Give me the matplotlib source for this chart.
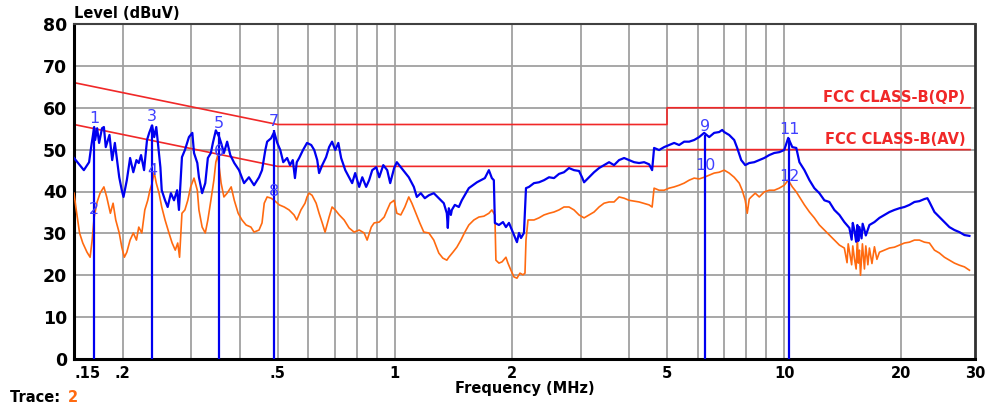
import numpy as np
import matplotlib
matplotlib.use("Agg")
import matplotlib.pyplot as plt
from matplotlib.ticker import FixedLocator, NullLocator

# peak trace (blue), MHz / dBuV
blue_freq = [0.150, 0.159, 0.164, 0.166, 0.169, 0.170, 0.172, 0.174, 0.177, 0.179, 0.181, 0.185, 0.188, 0.191,
             0.196, 0.199, 0.201, 0.205, 0.209, 0.213, 0.217, 0.220, 0.223, 0.227, 0.231, 0.234, 0.238, 0.241,
             0.244, 0.247, 0.250, 0.252, 0.257, 0.261, 0.266, 0.271, 0.276, 0.279, 0.284, 0.289, 0.296, 0.302,
             0.305, 0.311, 0.314, 0.320, 0.326, 0.331, 0.337, 0.341, 0.347, 0.354, 0.358, 0.364, 0.371, 0.378,
             0.387, 0.398, 0.410, 0.422, 0.435, 0.448, 0.456, 0.465, 0.470, 0.481, 0.490, 0.499, 0.508, 0.517,
             0.529, 0.538, 0.547, 0.554, 0.560, 0.568, 0.581, 0.595, 0.610, 0.621, 0.632, 0.639, 0.651, 0.666,
             0.678, 0.690, 0.703, 0.716, 0.728, 0.746, 0.763, 0.777, 0.791, 0.810, 0.825, 0.844, 0.859, 0.875,
             0.896, 0.912, 0.934, 0.956, 0.973, 0.996, 1.012, 1.036, 1.061, 1.086, 1.119, 1.139, 1.166, 1.194,
             1.223, 1.259, 1.297, 1.336, 1.360, 1.368, 1.376, 1.393, 1.401, 1.426, 1.460, 1.486, 1.522, 1.549,
             1.587, 1.625, 1.664, 1.703, 1.744, 1.775, 1.796, 1.807, 1.851, 1.896, 1.929, 1.964, 1.999, 2.035,
             2.059, 2.084, 2.109, 2.146, 2.172, 2.211, 2.277, 2.345, 2.416, 2.489, 2.563, 2.640, 2.719, 2.801,
             2.885, 2.972, 3.025, 3.062, 3.153, 3.248, 3.346, 3.446, 3.550, 3.656, 3.766, 3.880, 3.996, 4.116,
             4.240, 4.367, 4.498, 4.579, 4.633, 4.772, 4.916, 5.063, 5.216, 5.372, 5.534, 5.700, 5.871, 6.047,
             6.229, 6.416, 6.609, 6.807, 6.930, 7.012, 7.222, 7.439, 7.573, 7.755, 7.941, 8.131, 8.375, 8.627,
             8.886, 9.153, 9.428, 9.711, 10.00, 10.24, 10.49, 10.74, 10.94, 11.27, 11.61, 11.95, 12.31, 12.68,
             13.06, 13.45, 13.86, 14.27, 14.70, 14.90, 15.00, 15.14, 15.30, 15.41, 15.50, 15.60, 15.80, 15.90,
             16.07, 16.20, 16.55, 17.05, 17.56, 18.08, 18.63, 19.19, 19.76, 20.36, 20.97, 21.60, 22.24, 22.91,
             23.32, 23.60, 24.31, 25.04, 25.79, 26.56, 27.36, 28.18, 29.03, 29.90]
blue_level = [48.0, 45.1, 47.0, 50.6, 55.4, 52.3, 55.1, 51.6, 55.1, 55.4, 50.6, 53.5, 47.5, 51.6,
              43.4, 40.3, 38.7, 42.7, 48.0, 44.6, 47.5, 46.8, 48.7, 45.1, 52.3, 54.0, 55.8, 53.0,
              55.4, 50.6, 45.8, 40.3, 37.9, 36.3, 39.6, 37.9, 40.3, 35.6, 48.2, 49.9, 53.0, 54.0,
              49.2, 46.8, 43.4, 39.6, 42.0, 48.0, 49.2, 51.6, 54.6, 53.0, 51.6, 49.2, 51.9, 48.7,
              46.8, 45.1, 42.0, 43.4, 41.5, 43.4, 45.1, 49.9, 51.9, 52.7, 54.2, 51.6, 49.9, 47.0,
              48.0, 46.3, 47.5, 43.2, 47.0, 48.0, 49.9, 51.6, 51.1, 49.9, 47.5, 44.4, 46.3, 48.2,
              50.6, 51.9, 49.9, 51.6, 48.0, 45.1, 43.4, 42.0, 44.4, 41.1, 43.4, 41.1, 42.7, 45.1,
              45.8, 43.4, 46.3, 45.1, 42.0, 45.6, 47.0, 45.8, 44.6, 43.4, 41.1, 38.7, 39.6, 38.4,
              39.1, 39.6, 38.4, 37.2, 34.8, 31.3, 36.0, 34.4, 35.6, 36.8, 36.3, 37.9, 39.6, 40.8,
              41.5, 42.2, 42.7, 43.2, 45.1, 43.2, 42.7, 32.5, 32.0, 32.7, 31.5, 32.5, 30.8, 29.1,
              27.9, 30.1, 28.9, 30.1, 40.8, 41.1, 42.0, 42.2, 42.7, 43.4, 43.2, 44.2, 44.6, 45.6,
              45.1, 44.9, 43.4, 42.2, 43.4, 44.6, 45.6, 46.3, 47.0, 46.3, 47.5, 48.0, 47.5, 47.0,
              46.8, 47.0, 46.5, 45.1, 50.4, 49.9, 50.6, 51.1, 51.6, 51.1, 51.9, 51.9, 52.3, 53.0,
              54.0, 53.0, 54.0, 54.2, 54.7, 54.2, 53.5, 52.3, 50.4, 47.5, 46.3, 46.8, 47.0, 47.5,
              48.0, 48.7, 49.2, 49.4, 49.9, 52.8, 50.6, 50.4, 47.0, 45.1, 42.7, 40.8, 39.6, 37.9,
              37.5, 35.6, 34.4, 32.7, 31.3, 28.5, 32.5, 30.8, 28.0, 32.0, 28.2, 31.5, 28.8, 32.3,
              30.8, 29.5, 32.0, 32.7, 33.7, 34.4, 35.1, 35.6, 36.0, 36.3, 36.8, 37.5, 37.7, 38.2,
              38.4, 37.5, 35.1, 33.9, 32.7, 31.5, 30.8, 30.3, 29.6, 29.4]

# average trace (orange)
orange_freq = [0.150, 0.152, 0.155, 0.158, 0.162, 0.165, 0.167, 0.169, 0.172, 0.175, 0.179, 0.182, 0.186, 0.189,
               0.192, 0.196, 0.199, 0.202, 0.205, 0.209, 0.213, 0.217, 0.220, 0.224, 0.228, 0.232, 0.235, 0.238,
               0.241, 0.244, 0.248, 0.252, 0.257, 0.263, 0.268, 0.273, 0.277, 0.280, 0.284, 0.289, 0.294, 0.299,
               0.305, 0.311, 0.314, 0.320, 0.326, 0.331, 0.337, 0.343, 0.347, 0.351, 0.358, 0.364, 0.371, 0.380,
               0.387, 0.396, 0.405, 0.415, 0.427, 0.435, 0.448, 0.456, 0.462, 0.470, 0.481, 0.490, 0.505, 0.520,
               0.535, 0.551, 0.560, 0.574, 0.588, 0.595, 0.602, 0.613, 0.628, 0.639, 0.651, 0.662, 0.678, 0.690,
               0.703, 0.720, 0.741, 0.763, 0.786, 0.810, 0.834, 0.849, 0.870, 0.885, 0.912, 0.939, 0.956, 0.973,
               0.996, 1.012, 1.036, 1.061, 1.086, 1.106, 1.133, 1.159, 1.187, 1.223, 1.259, 1.297, 1.328, 1.360,
               1.376, 1.410, 1.443, 1.478, 1.513, 1.549, 1.596, 1.644, 1.693, 1.744, 1.775, 1.807, 1.818, 1.851,
               1.885, 1.929, 1.952, 1.987, 2.023, 2.059, 2.096, 2.134, 2.159, 2.172, 2.198, 2.277, 2.345, 2.416,
               2.489, 2.563, 2.640, 2.719, 2.801, 2.885, 2.972, 3.062, 3.153, 3.248, 3.346, 3.446, 3.550, 3.656,
               3.766, 3.880, 3.996, 4.240, 4.498, 4.579, 4.633, 4.772, 4.916, 5.063, 5.216, 5.372, 5.534, 5.700,
               5.871, 6.047, 6.229, 6.416, 6.609, 6.807, 7.012, 7.222, 7.439, 7.663, 7.801, 7.941, 8.036, 8.131,
               8.228, 8.425, 8.627, 8.886, 9.153, 9.428, 9.711, 10.00, 10.24, 10.49, 10.74, 10.94, 11.27, 11.61,
               11.95, 12.31, 12.68, 13.06, 13.45, 13.86, 14.27, 14.50, 14.60, 14.90, 15.00, 15.14, 15.30, 15.41,
               15.50, 15.60, 15.70, 15.88, 16.07, 16.20, 16.40, 16.55, 16.80, 17.05, 17.30, 17.56, 18.08, 18.63,
               19.19, 19.76, 20.36, 20.97, 21.60, 22.24, 22.91, 23.60, 24.31, 25.04, 25.79, 26.56, 27.36, 28.18,
               29.03, 29.90]
orange_level = [39.6, 35.6, 30.1, 27.7, 25.5, 24.3, 28.4, 33.9, 37.5, 39.6, 41.1, 38.7, 34.8, 37.2,
                33.2, 30.1, 26.7, 24.3, 25.5, 28.4, 30.1, 28.4, 31.5, 30.1, 35.6, 37.9, 40.3, 42.0,
                44.6, 42.0, 39.6, 36.3, 33.2, 30.1, 27.7, 26.0, 27.7, 24.3, 34.8, 35.6, 37.9, 41.1,
                43.2, 40.3, 35.6, 31.5, 30.1, 33.2, 37.9, 42.7, 47.0, 48.7, 42.0, 38.7, 39.6, 41.1,
                37.9, 34.8, 33.2, 32.0, 31.5, 30.3, 30.8, 32.5, 37.2, 38.7, 38.4, 37.9, 36.8, 36.3,
                35.6, 34.4, 33.2, 35.6, 37.2, 38.7, 39.6, 39.1, 37.2, 34.8, 32.5, 30.3, 33.9, 36.3,
                35.6, 34.4, 33.2, 31.3, 30.3, 30.8, 30.1, 28.4, 31.5, 32.5, 32.7, 33.9, 35.6, 37.2,
                37.9, 34.8, 34.4, 36.3, 38.7, 37.2, 34.8, 32.5, 30.3, 30.1, 28.4, 25.3, 24.1, 23.6,
                24.3, 25.5, 26.7, 28.4, 30.3, 32.0, 33.2, 33.9, 34.1, 34.8, 35.6, 34.4, 23.6, 22.9,
                23.2, 24.3, 22.9, 21.2, 19.6, 19.3, 20.5, 20.1, 20.5, 28.4, 33.2, 33.2, 33.7, 34.4,
                34.8, 35.1, 35.6, 36.3, 36.3, 35.6, 34.4, 33.7, 34.4, 35.1, 36.3, 37.2, 37.5, 37.5,
                38.7, 38.4, 37.9, 37.5, 36.8, 36.3, 40.8, 40.3, 40.3, 40.8, 41.1, 41.5, 42.0, 42.7,
                43.2, 43.0, 43.4, 43.9, 44.4, 44.6, 45.1, 44.4, 43.4, 42.0, 40.3, 37.9, 34.8, 38.2,
                38.7, 39.6, 38.7, 39.9, 40.3, 40.3, 40.8, 41.5, 42.7, 41.1, 39.9, 38.7, 36.8, 35.1,
                33.7, 32.0, 30.8, 29.6, 28.4, 27.2, 26.5, 23.0, 27.5, 22.5, 27.0, 24.1, 21.5, 29.0,
                22.9, 26.0, 20.0, 27.5, 21.5, 27.0, 22.5, 26.5, 22.8, 26.8, 23.8, 25.5, 26.0, 26.5,
                26.7, 27.2, 27.7, 27.9, 28.4, 28.4, 27.9, 27.7, 26.0, 25.3, 24.3, 23.6, 22.9, 22.4,
                22.0, 21.2]

# FCC class B limits
limit_freq = [0.15, 0.5, 0.5, 5.0, 5.0, 30.0]
qp_limit = [66, 56, 56, 56, 60, 60]
av_limit = [56, 46, 46, 46, 50, 50]

# markers
marker_no = ["1", "2", "3", "4", "5", "6", "7", "8", "9", "10", "11", "12"]
marker_freq = [0.169, 0.169, 0.238, 0.238, 0.354, 0.354, 0.490, 0.490, 6.27, 6.27, 10.3, 10.3]
marker_level = [55.4, 33.5, 55.8, 43.0, 54.2, 47.5, 54.6, 37.9, 53.5, 44.0, 52.8, 41.5]

xticks = [0.15, 0.2, 0.5, 1, 2, 5, 10, 20, 30.9]
xtick_labels = [".15", ".2", ".5", "1", "2", "5", "10", "20", "30"]
xgrid = [0.2, 0.3, 0.4, 0.5, 0.6, 0.7, 0.8, 0.9, 1, 2, 3, 4, 5, 6, 7, 8, 9, 10, 20]

BLUE = "#0000f0"
ORANGE = "#ff6a10"
RED = "#f02828"

fig = plt.figure(figsize=(9.92, 4.05), dpi=100)
ax = fig.add_axes([74 / 992, 1 - 359 / 405, 901 / 992, 335 / 405])
ax.set_xscale("log")
ax.set_xlim(0.15, 30.9)
ax.set_ylim(0, 80)

# grid
for g in xgrid:
    ax.axvline(g, color="#a0a0a0", lw=1.3, zorder=0)
for g in range(10, 80, 10):
    ax.axhline(g, color="#a0a0a0", lw=1.3, zorder=0)

ax.plot(limit_freq, qp_limit, color=RED, lw=1.2, zorder=2)
ax.plot(limit_freq, av_limit, color=RED, lw=1.2, zorder=2)
ax.text(29.2, 60.6, "FCC CLASS-B(QP)", color=RED, fontsize=10.5, fontweight="bold", ha="right", va="bottom")
ax.text(29.2, 50.6, "FCC CLASS-B(AV)", color=RED, fontsize=10.5, fontweight="bold", ha="right", va="bottom")

ax.plot(orange_freq, orange_level, color=ORANGE, lw=1.2, zorder=3)
ax.plot(blue_freq, blue_level, color=BLUE, lw=1.6, zorder=4)

# marker lines and numbers
for i in range(0, len(marker_freq), 2):
    top = max(marker_level[i], marker_level[i + 1])
    ax.vlines(marker_freq[i], 0, top, color=BLUE, lw=1.6, zorder=5)
for no, f, lv in zip(marker_no, marker_freq, marker_level):
    ax.annotate(no, (f, lv), xytext=(0, 1), textcoords="offset points", ha="center", va="bottom",
                color="#4040ff", fontsize=11.5, zorder=6)

ax.xaxis.set_major_locator(FixedLocator(xticks))
ax.xaxis.set_minor_locator(NullLocator())
ax.set_xticklabels(xtick_labels)
ax.set_yticks(range(0, 90, 10))
ax.tick_params(length=0, pad=5)
for lab in ax.get_yticklabels():
    lab.set_fontsize(12.5)
    lab.set_fontweight("bold")
for lab in ax.get_xticklabels():
    lab.set_fontsize(10.5)
    lab.set_fontweight("bold")
ax.get_xticklabels()[0].set_horizontalalignment("left")

for s in ["left", "bottom"]:
    ax.spines[s].set_linewidth(2.2)
    ax.spines[s].set_color("black")
ax.spines["top"].set_color("#404040")
ax.spines["top"].set_linewidth(1.5)
ax.spines["right"].set_color("#303030")
ax.spines["right"].set_linewidth(2.0)

fig.text(74 / 992, 1 - 14 / 405, "Level (dBuV)", fontsize=10.5, fontweight="bold", va="center", ha="left")
fig.text(525 / 992, 1 - 388 / 405, "Frequency (MHz)", fontsize=10.5, fontweight="bold", va="center", ha="center")
fig.text(10 / 992, 1 - 398 / 405, "Trace: ", fontsize=10.5, fontweight="bold", va="center", ha="left")
fig.text(68 / 992, 1 - 398 / 405, "2", fontsize=10.5, fontweight="bold", va="center", ha="left", color=ORANGE)

fig.savefig("out.png", dpi=100)
